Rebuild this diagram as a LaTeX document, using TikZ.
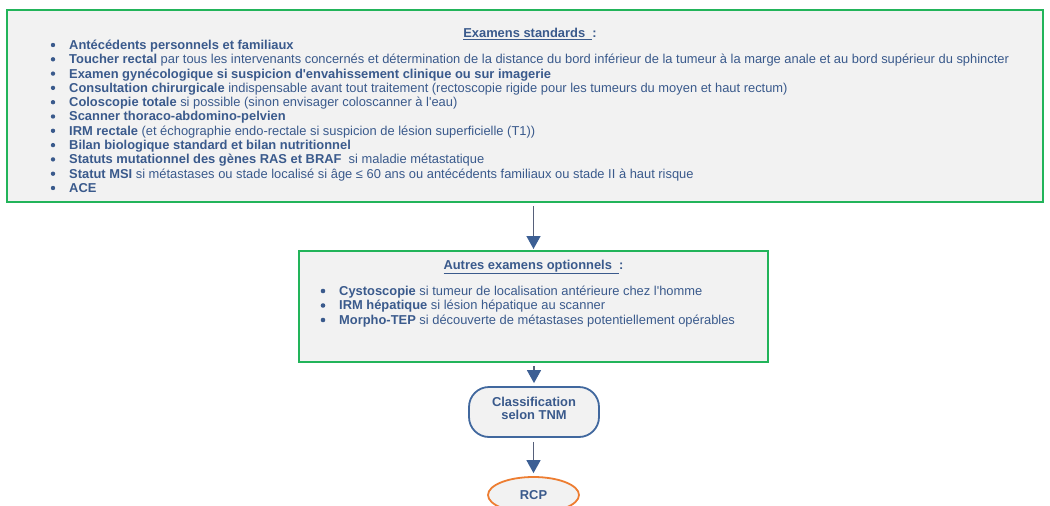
\documentclass[tikz,border=0pt]{standalone}
\usepackage{fontspec}
\setmainfont{Liberation Sans}
\usetikzlibrary{arrows.meta,shapes.geometric}
\definecolor{grn}{HTML}{22B45A}
\definecolor{txt}{HTML}{3A5A8C}
\definecolor{bxfill}{HTML}{F2F2F2}
\definecolor{navy}{HTML}{41689E}
\definecolor{org}{HTML}{ED7D31}
\definecolor{arrline}{HTML}{56607A}
\definecolor{arrhead}{HTML}{3C5F94}
\begin{document}
\begin{tikzpicture}[x=1pt,y=-1pt,
  every node/.style={font=\fontsize{12.9}{14.3}\selectfont, text=txt},
  greenbox/.style={draw=grn, line width=2pt, fill=bxfill, inner sep=0pt},
  termbox/.style={draw=navy, line width=1.8pt, fill=bxfill, rounded corners=20pt,
    minimum width=130, minimum height=50, align=center,
    font=\fontsize{12.9}{13}\selectfont\bfseries},
  rcpbox/.style={ellipse, draw=org, line width=1.8pt, fill=bxfill,
    minimum width=91, minimum height=36, font=\fontsize{12.9}{13}\selectfont\bfseries},
  itemtxt/.style={anchor=base west, inner sep=0pt},
  titletxt/.style={anchor=base, inner sep=0pt, font=\fontsize{12.9}{14.3}\selectfont\bfseries},
  dot/.style={fill=txt, draw=none},
  arr/.style={draw=arrline, line width=1.5pt, -{Triangle[width=14pt,length=13pt,color=arrhead]}}
]
\useasboundingbox (0,0) rectangle (1050,506);
\clip (0,0) rectangle (1050,506);

% top box
\node[greenbox, minimum width=1036, minimum height=192] (std) at (525,106) {};
\node[titletxt] (stdtitle) at (530,37.2) {\underline{Examens standards\ \ }:};
\foreach \t [count=\i from 0] in {
  {\textbf{Antécédents personnels et familiaux}},
  {\textbf{Toucher rectal} par tous les intervenants concernés et détermination de la distance du bord inférieur de la tumeur à la marge anale et au bord supérieur du sphincter},
  {\textbf{Examen gynécologique si suspicion d\textquotesingle envahissement clinique ou sur imagerie}},
  {\textbf{Consultation chirurgicale} indispensable avant tout traitement (rectoscopie rigide pour les tumeurs du moyen et haut rectum)},
  {\textbf{Coloscopie totale} si possible (sinon envisager coloscanner à l\textquotesingle eau)},
  {\textbf{Scanner thoraco-abdomino-pelvien}},
  {\textbf{IRM rectale} (et échographie endo-rectale si suspicion de lésion superficielle (T1))},
  {\textbf{Bilan biologique standard et bilan nutritionnel}},
  {\textbf{Statuts mutationnel des gènes RAS et BRAF}\ \ si maladie métastatique},
  {\textbf{Statut MSI} si métastases ou stade localisé si âge ≤ 60 ans ou antécédents familiaux ou stade II à haut risque},
  {\textbf{ACE}}}
{
  \pgfmathsetmacro{\yc}{45+14.3*\i}
  \fill[dot] (53,\yc) circle (2.2);
  \node[itemtxt] (s\i) at (69,\yc+4.4) {\t};
}

% optional exams box
\node[greenbox, minimum width=469, minimum height=111] (opt) at (533.5,306.5) {};
\node[titletxt] (opttitle) at (533.5,269.3) {\underline{Autres examens optionnels\ \ }:};
\foreach \t [count=\i from 0] in {
  {\textbf{Cystoscopie} si tumeur de localisation antérieure chez l\textquotesingle homme},
  {\textbf{IRM hépatique} si lésion hépatique au scanner},
  {\textbf{Morpho-TEP} si découverte de métastases potentiellement opérables}}
{
  \pgfmathsetmacro{\yc}{291+14.5*\i}
  \fill[dot] (323,\yc) circle (2.3);
  \node[itemtxt] (o\i) at (339,\yc+4.4) {\t};
}

% terminal nodes
\node[termbox] (tnm) at (534,412) {\raisebox{0pt}[\height][\dimexpr\depth+4pt]{\begin{tabular}{@{}c@{}}Classification\\selon TNM\end{tabular}}};
\node[rcpbox] (rcp) at (533.5,495) {RCP};

% connectors
\draw[arr, shorten >=1pt] ([yshift=-3pt]std.south -| opt.north) -- (opt.north);
\draw[arr, shorten >=3pt] ([yshift=-3pt]opt.south -| tnm.north) -- (tnm.north);
\draw[arr, shorten >=3pt] ([yshift=-4pt]tnm.south -| rcp.north) -- (rcp.north);
\end{tikzpicture}
\end{document}
